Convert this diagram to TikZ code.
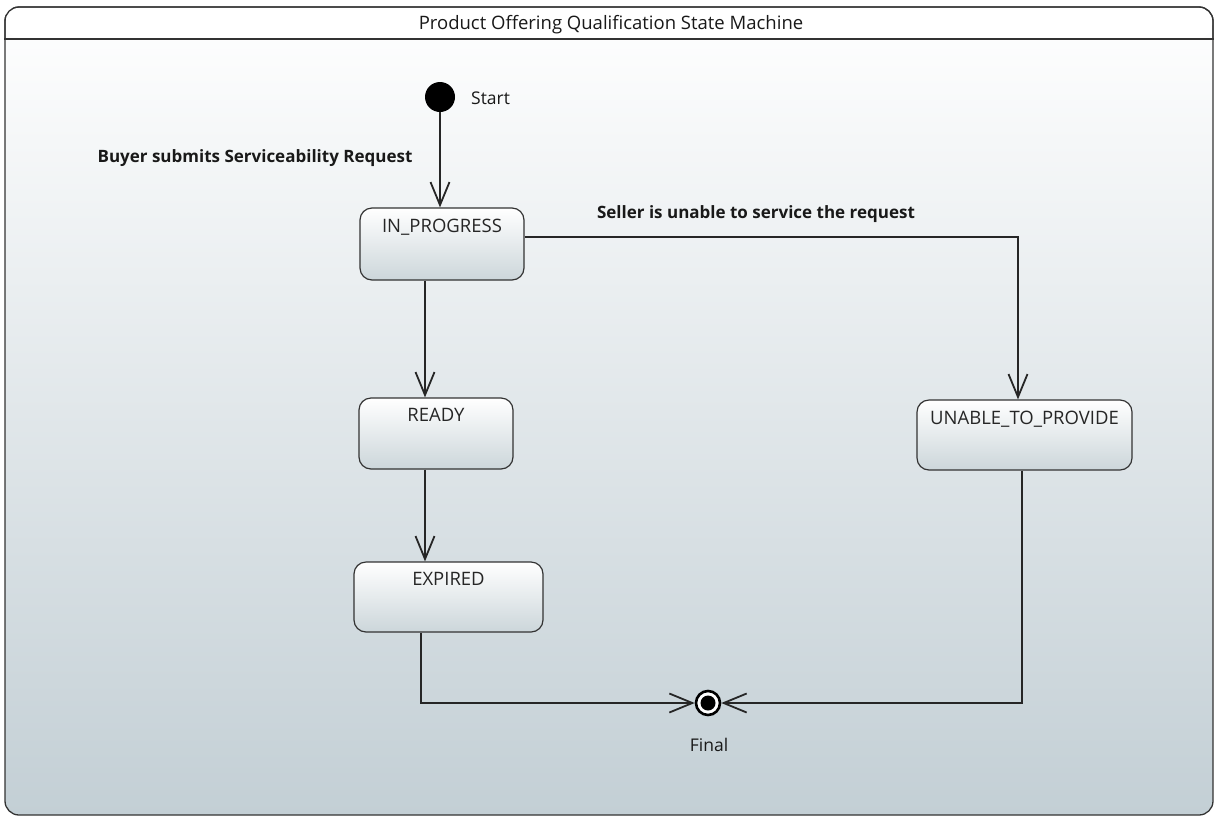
\documentclass[tikz,border=0pt]{standalone}
\usepackage{fontspec}
\setmainfont{Open Sans}
\usetikzlibrary{arrows.meta}
\definecolor{bgbot}{HTML}{C3CFD5}
\definecolor{boxbot}{HTML}{CCD6DA}
\definecolor{edge}{HTML}{333333}
\begin{document}
\begin{tikzpicture}[x=1pt,y=-1pt,
  frame/.style={draw=edge, line width=1.3pt, rounded corners=14pt, top color=white, bottom color=bgbot, inner sep=0pt},
  stbox/.style={draw=edge, line width=1.2pt, rounded corners=12pt, top color=white, bottom color=boxbot, inner sep=0pt},
  sttext/.style={font=\fontsize{18.5}{20}\selectfont, text=black!85, anchor=north, inner sep=0pt},
  lbl/.style={font=\bfseries\fontsize{17}{19}\selectfont, text=black!90, inner sep=0pt},
  plain/.style={font=\fontsize{17.5}{19}\selectfont, text=black!90, inner sep=0pt},
  arr/.style={draw=black!85, line width=1.3pt, -{Straight Barb[length=23pt,width=19pt,line width=1.8pt]}}
]
\useasboundingbox (0,0) rectangle (1214,817);
\node[frame, minimum width=1208pt, minimum height=808pt] (frame) at (609,411) {};
\fill[white] (6,8.5) [rounded corners=13pt] -- (6,38) -- (1212,38) [rounded corners=13pt] -- (1212,8.5) [sharp corners] -- cycle;
\draw[edge, line width=1.3pt, rounded corners=14pt] (5,39) -- (5,7) -- (1213,7) -- (1213,39);
\draw[edge, line width=1.3pt] (frame.west |- 0,39) -- (frame.east |- 0,39);
\node[font=\fontsize{18.5}{20}\selectfont, text=black!90, inner sep=0pt] (title) at (611,25) {Product Offering Qualification State Machine};

% start
\node[circle, fill=black, minimum size=30pt, inner sep=0pt] (start) at (440,97) {};
\node[plain, anchor=west] (startlbl) at (471,98) {Start};

% states
\node[stbox, minimum width=164pt, minimum height=72pt] (inprog) at (442,244) {};
\node[sttext] (inprogt) at ([yshift=-11pt]inprog.north) {IN\_PROGRESS};
\node[stbox, minimum width=154pt, minimum height=71pt] (ready) at (436,433.5) {};
\node[sttext] (readyt) at ([yshift=-11pt]ready.north) {READY};
\node[stbox, minimum width=189pt, minimum height=70pt] (expired) at (448.5,597) {};
\node[sttext] (expiredt) at ([yshift=-11pt]expired.north) {EXPIRED};
\node[stbox, minimum width=215pt, minimum height=70pt] (unable) at (1024.5,435) {};
\node[sttext] (unablet) at ([yshift=-11pt]unable.north) {UNABLE\_TO\_PROVIDE};

% final
\node[circle, draw=black, line width=2.6pt, fill=white, minimum size=24pt, inner sep=0pt,
  path picture={\fill[black] (path picture bounding box.center) circle (7.5pt);}] (final) at (708,703) {};
\node[plain] (finallbl) at (709,745) {Final};

% transitions
\draw[arr] (start) -- (start |- inprog.north);
\node[lbl] (buyer) at (255,158) {Buyer submits Serviceability Request};
\draw[arr] ([yshift=7pt]inprog.east) -| ([xshift=-6.5pt]unable.north);
\node[lbl] (seller) at (756,214) {Seller is unable to service the request};
\draw[arr] ([xshift=-17pt]inprog.south) -- ([xshift=-17pt]inprog.south |- ready.north);
\draw[arr] ([xshift=-11pt]ready.south) -- ([xshift=-11pt]ready.south |- expired.north);
\draw[arr] ([xshift=-27.5pt]expired.south) |- (final.west);
\draw[arr] ([xshift=-2.5pt]unable.south) |- (final.east);
\end{tikzpicture}
\end{document}
